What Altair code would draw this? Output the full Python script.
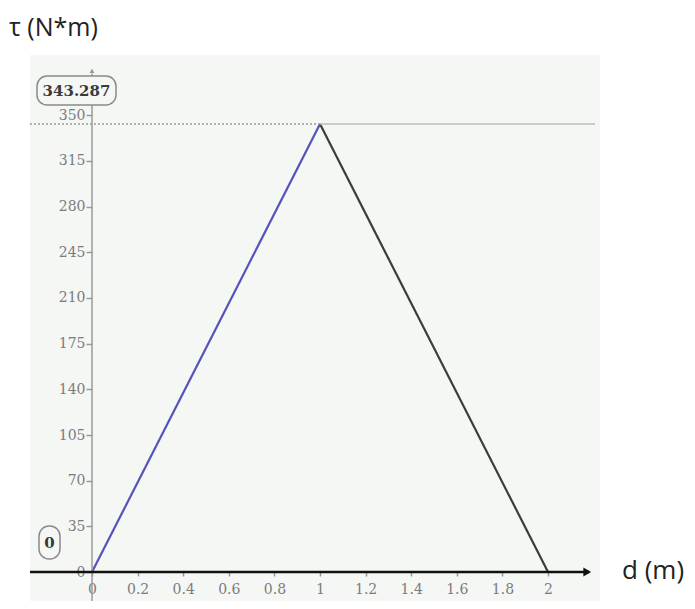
import altair as alt
import pandas as pd

# ---- data ----
d_values = [0, 1, 2]
tau_values = [0, 343.287, 0]
segments = ["rise", "fall"]
seg_colors = ["#5454b8", "#3c3c3c"]
x_ticks = [0, 0.2, 0.4, 0.6, 0.8, 1, 1.2, 1.4, 1.6, 1.8, 2]
y_ticks = [0, 35, 70, 105, 140, 175, 210, 245, 280, 315, 350]
peak_label = "343.287"
zero_label = "0"
y_title = "τ (N*m)"
x_title = "d (m)"

# ---- axis extents (data units) ----
X_DOMAIN = [-0.272, 2.228]
Y_DOMAIN = [-22.2, 396.2]
X_AXIS_END = 2.18
Y_AXIS_TOP = 382
BG = "#f4f7f4"

lines_df = pd.DataFrame({
    "d": [d_values[0], d_values[1], d_values[1], d_values[2]],
    "tau": [tau_values[0], tau_values[1], tau_values[1], tau_values[2]],
    "seg": [segments[0], segments[0], segments[1], segments[1]],
})
one = pd.DataFrame({"k": [0]})

xs = alt.Scale(domain=X_DOMAIN, nice=False, zero=False)
ys = alt.Scale(domain=Y_DOMAIN, nice=False, zero=False)

x_axis = alt.Axis(values=x_ticks, format="~g", offset=-29, domain=False, grid=False,
                  tickSize=4, tickColor="#999", tickWidth=1.5, labelFont="DejaVu Serif",
                  labelFontSize=14, labelColor="#7c7c7c", labelPadding=6,
                  labelOverlap=False, labelFlush=False, title=None)
y_axis = alt.Axis(values=y_ticks, offset=-62, domain=False, grid=False,
                  tickSize=6, tickColor="#999", tickWidth=1.5, labelFont="DejaVu Serif",
                  labelFontSize=14, labelColor="#7c7c7c", labelPadding=1,
                  labelBaseline="middle", labelOverlap=False, labelFlush=False, title=None)

lines = alt.Chart(lines_df).mark_line(strokeWidth=2.2).encode(
    x=alt.X("d:Q", scale=xs, axis=x_axis),
    y=alt.Y("tau:Q", scale=ys, axis=y_axis),
    color=alt.Color("seg:N", scale=alt.Scale(domain=segments, range=seg_colors), legend=None),
)

y_line = alt.Chart(one).mark_rule(color="#9a9a9a", strokeWidth=1.5).encode(
    x=alt.datum(0, scale=xs), y=alt.datum(Y_DOMAIN[0], scale=ys), y2=alt.datum(Y_AXIS_TOP))
y_arrow = alt.Chart(one).mark_point(shape="triangle-up", filled=True, size=25,
                                    color="#999", opacity=1).encode(
    x=alt.datum(0), y=alt.datum(Y_AXIS_TOP + 2))

peak_left = alt.Chart(one).mark_rule(color="#999", strokeWidth=1.5, strokeDash=[2, 2]).encode(
    x=alt.datum(X_DOMAIN[0]), x2=alt.datum(d_values[1]), y=alt.datum(tau_values[1]))
peak_right = alt.Chart(one).mark_rule(color="#bcbcbc", strokeWidth=1.5).encode(
    x=alt.datum(d_values[1]), x2=alt.datum(2.206), y=alt.datum(tau_values[1]))

x_line = alt.Chart(one).mark_rule(color="#111", strokeWidth=2.5).encode(
    x=alt.datum(X_DOMAIN[0]), x2=alt.datum(X_AXIS_END), y=alt.datum(0))
x_arrow = alt.Chart(one).mark_point(shape="triangle-right", filled=True, size=80,
                                    color="#111", opacity=1).encode(
    x=alt.datum(2.172), y=alt.datum(0))

peak_box = alt.Chart(one).mark_rect(fill=BG, stroke="#8a8a8a", strokeWidth=1.5,
                                    cornerRadius=10).encode(
    x=alt.value(7), x2=alt.value(86), y=alt.value(21), y2=alt.value(50))
peak_text = alt.Chart(one).mark_text(text=peak_label, font="DejaVu Serif", fontWeight="bold",
                                     fontSize=15, color="#3a3a3a", align="center",
                                     baseline="middle").encode(
    x=alt.value(46.5), y=alt.value(36))
zero_box = alt.Chart(one).mark_rect(fill=BG, stroke="#8a8a8a", strokeWidth=1.5,
                                    cornerRadius=10).encode(
    x=alt.value(9), x2=alt.value(30), y=alt.value(471), y2=alt.value(504))
zero_text = alt.Chart(one).mark_text(text=zero_label, font="DejaVu Serif", fontWeight="bold",
                                     fontSize=15, color="#3a3a3a", align="center",
                                     baseline="middle").encode(
    x=alt.value(19.5), y=alt.value(488))

ytitle = alt.Chart(one).mark_text(text=y_title, font="Open Sans", fontSize=25, color="#222",
                                  align="left", baseline="alphabetic").encode(
    x=alt.value(-21), y=alt.value(-19))
xtitle = alt.Chart(one).mark_text(text=x_title, font="Open Sans", fontSize=26, color="#222",
                                  align="left", baseline="alphabetic").encode(
    x=alt.value(592), y=alt.value(524))

chart = alt.layer(
    lines, y_line, y_arrow, peak_left, peak_right, x_line, x_arrow,
    peak_box, peak_text, zero_box, zero_text, ytitle, xtitle,
).properties(
    width=570, height=546,
    padding={"left": 22, "top": 47, "right": 87, "bottom": 0},
    autosize=alt.AutoSizeParams(type="none"),
).configure_view(fill=BG, strokeWidth=0)

chart.save("out.html", embed_options={"renderer": "svg", "actions": False})
